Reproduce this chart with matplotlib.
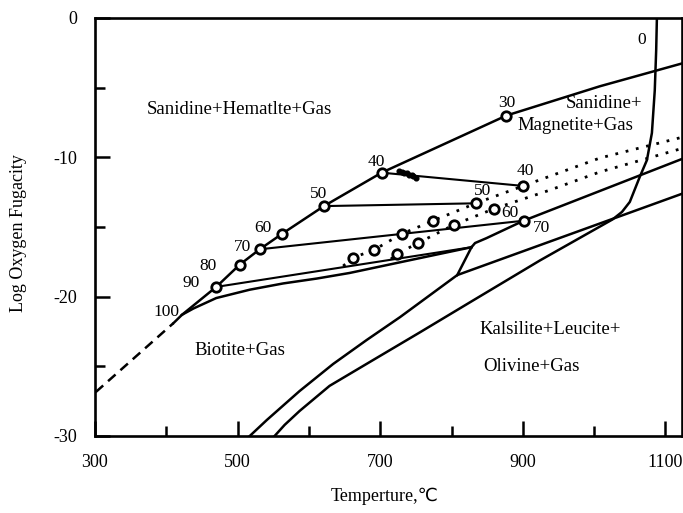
import matplotlib
matplotlib.use('Agg')
import matplotlib.pyplot as plt

plt.rcParams['font.family'] = ['Liberation Serif', 'DejaVu Sans', 'Noto Sans CJK SC']
plt.rcParams['axes.unicode_minus'] = False

# ---- data (temperature in deg C, log oxygen fugacity) ----
# upper biotite boundary with composition circles
main_T = [410, 422, 470, 503, 531, 562, 621, 702, 877, 1008, 1124]
main_logf = [-21.9, -21.3, -19.3, -17.7, -16.6, -15.5, -13.5, -11.1, -7.0, -4.9, -3.25]
main_circle_T = [470, 503, 531, 562, 621, 702, 877]
main_circle_logf = [-19.3, -17.7, -16.6, -15.5, -13.5, -11.1, -7.0]

# dashed low-temperature extension
dash_T = [301, 410]
dash_logf = [-26.85, -21.9]

# lower boundary from the 100 point to the invariant point
lowA_T = [422, 438, 470, 517, 564, 611, 657, 740, 828]
lowA_logf = [-21.3, -20.85, -20.1, -19.5, -19.05, -18.7, -18.3, -17.4, -16.45]

# tie lines
tie40_T = [702, 900]
tie40_logf = [-11.1, -12.05]
tie50_T = [621, 834]
tie50_logf = [-13.5, -13.3]
tie70_T = [531, 901]
tie70_logf = [-16.6, -14.55]
tie90_T = [470, 828]
tie90_logf = [-19.3, -16.45]

# curve B (from invariant point to right edge)
curveB_T = [828, 833, 849, 901, 1124]
curveB_logf = [-16.45, -16.15, -15.8, -14.55, -10.1]
# short kink segment
kink_T = [828, 808]
kink_logf = [-16.45, -18.45]

# line C
lineC_T = [516, 541, 587, 634, 681, 728, 808, 1124]
lineC_logf = [-30.05, -28.85, -26.77, -24.83, -23.11, -21.46, -18.45, -12.6]

# line D ("0" curve)
lineD_T = [551, 566, 587, 629, 685, 756, 826, 924, 1026, 1039, 1050, 1064, 1074, 1081, 1085, 1087, 1088]
lineD_logf = [-30.05, -29.2, -28.2, -26.4, -24.7, -22.55, -20.4, -17.4, -14.45, -13.92, -13.2, -11.4,
              -10.2, -8.25, -5.2, -2.3, 0.0]

# dotted lines
dotU_T = [648, 662, 691, 730, 774, 834, 914, 1008, 1124]
dotU_logf = [-17.8, -17.2, -16.65, -15.5, -14.55, -13.3, -11.8, -10.05, -8.55]
dotL_T = [715, 723, 753, 803, 859, 938, 1008, 1124]
dotL_logf = [-17.3, -16.95, -16.15, -14.85, -13.7, -12.35, -11.05, -9.35]

# other sample circles
samp_T = [662, 691, 723, 730, 753, 774, 803, 834, 859, 900, 901]
samp_logf = [-17.22, -16.65, -16.94, -15.5, -16.15, -14.57, -14.86, -13.28, -13.71, -12.06, -14.57]

# small filled dots cluster
clus_T = [727, 731, 734, 737, 741, 744, 746, 750]
clus_logf = [-10.95, -11.05, -11.15, -11.1, -11.25, -11.3, -11.35, -11.45]

# number labels (text, T, logf)
num_labels = [('100', 400, -21.1), ('90', 435, -19.05), ('80', 459, -17.8), ('70', 507, -16.4),
              ('60', 536, -15.1), ('50', 614, -12.6), ('40', 695, -10.3), ('30', 877, -6.1),
              ('40', 903, -11.0), ('50', 844, -12.45), ('60', 882, -14.0), ('70', 926, -15.1),
              ('0', 1067, -1.6)]

x_ticks = [300, 500, 700, 900, 1100]
x_minor = [400, 600, 800, 1000]
y_ticks = [0, -10, -20, -30]
y_minor = [-5, -15, -25]

# ---- figure ----
fig = plt.figure(figsize=(6.83, 5.13), dpi=100)
ax = fig.add_axes([95 / 683, 1 - 436 / 513, 586.5 / 683, 418 / 513])
ax.set_xlim(300, 1122.5)
ax.set_ylim(-30, 0)

lw = 1.8
k = 'black'
ax.plot(main_T, main_logf, color=k, lw=lw, zorder=3)
ax.plot(dash_T, dash_logf, color=k, lw=lw, ls=(0, (4, 2.6)), zorder=3)
ax.plot(lowA_T, lowA_logf, color=k, lw=lw, zorder=3)
for tT, tf in [(tie40_T, tie40_logf), (tie50_T, tie50_logf), (tie70_T, tie70_logf), (tie90_T, tie90_logf)]:
    ax.plot(tT, tf, color=k, lw=1.5, zorder=3)
ax.plot(curveB_T, curveB_logf, color=k, lw=lw, zorder=3)
ax.plot(kink_T, kink_logf, color=k, lw=lw, zorder=3)
ax.plot(lineC_T, lineC_logf, color=k, lw=lw, zorder=3)
ax.plot(lineD_T, lineD_logf, color=k, lw=lw, zorder=3)
ax.plot(dotU_T, dotU_logf, color=k, lw=2.0, ls=(0, (1, 2.8)), zorder=2)
ax.plot(dotL_T, dotL_logf, color=k, lw=2.0, ls=(0, (1, 2.8)), zorder=2)

circ = dict(marker='o', ms=6.8, mfc='white', mec=k, mew=2.0, ls='none', zorder=5)
ax.plot(main_circle_T, main_circle_logf, **circ)
ax.plot(samp_T, samp_logf, **circ)
ax.plot(clus_T, clus_logf, marker='o', ms=3.4, color=k, ls='none', zorder=5)

for txt, tx, ty in num_labels:
    ax.text(tx, ty, txt, fontsize=12.5, ha='center', va='center', zorder=6)

fs_reg = 13.5
ax.text(503, -6.6, 'Sanidine+Hematlte+Gas', fontsize=fs_reg, ha='center', va='center')
ax.text(960, -6.15, 'Sanidine+', fontsize=fs_reg, ha='left', va='center')
ax.text(892, -7.7, 'Magnetite+Gas', fontsize=fs_reg, ha='left', va='center')
ax.text(440, -23.85, 'Biotite+Gas', fontsize=fs_reg, ha='left', va='center')
ax.text(839, -22.35, 'Kalsilite+Leucite+', fontsize=fs_reg, ha='left', va='center')
ax.text(845, -25.0, 'Olivine+Gas', fontsize=fs_reg, ha='left', va='center')

ax.set_xticks(x_ticks)
ax.set_xticks(x_minor, minor=True)
ax.set_yticks(y_ticks)
ax.set_yticks(y_minor, minor=True)
ax.tick_params(which='both', direction='in', width=1.8, labelsize=13,
               top=False, right=False, color=k)
ax.tick_params(axis='x', which='major', length=11, pad=13)
ax.tick_params(axis='x', which='minor', length=7)
ax.tick_params(axis='y', which='major', length=11, pad=13)
ax.tick_params(axis='y', which='minor', length=7)
for s in ax.spines.values():
    s.set_linewidth(1.9)

ax.set_xlabel('Temperture,\u2103', fontsize=13)
ax.xaxis.set_label_coords((385 - 95) / 586.5, -(488 - 436) / 418)
ax.set_ylabel('Log Oxygen Fugacity', fontsize=13)
ax.yaxis.set_label_coords(-(95 - 27) / 586.5, 0.486)

fig.savefig('out.png', dpi=100)
